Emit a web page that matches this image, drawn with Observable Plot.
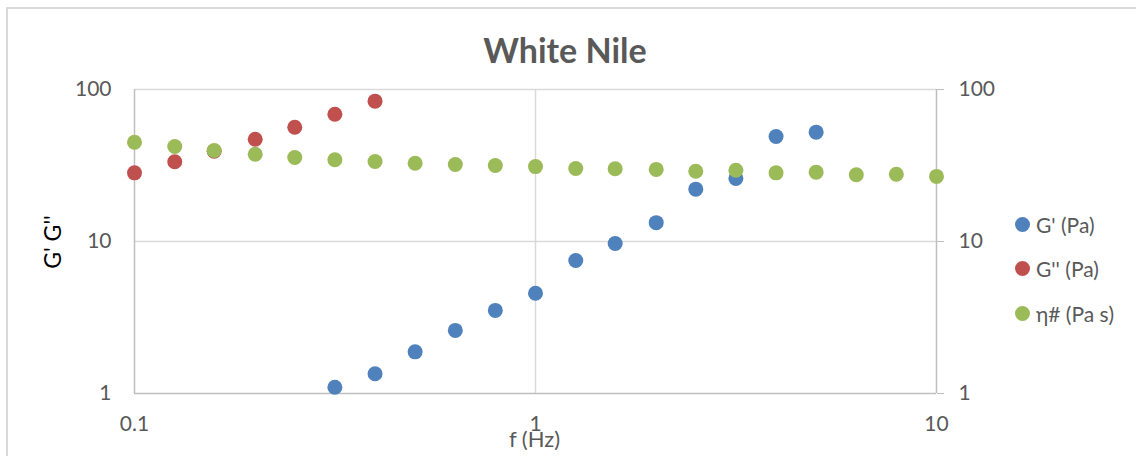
<!DOCTYPE html>
<html>
<head>
<meta charset="utf-8">
<script src="https://cdn.jsdelivr.net/npm/d3@7"></script>
<script src="https://cdn.jsdelivr.net/npm/@observablehq/plot@0.6"></script>
<style>
  html, body { margin: 0; padding: 0; background: #fff; }
  #wrap { position: relative; width: 1136px; height: 456px; overflow: hidden; font-family: Lato, "Open Sans", sans-serif; }
  #border { position: absolute; left: 6px; top: 7px; width: 1200px; height: 500px; border-left: 2px solid #d9d9d9; border-top: 2px solid #d9d9d9; box-sizing: border-box; }
  #title { position: absolute; left: 565px; top: 30px; transform: translateX(-50%); font-weight: bold; font-size: 34px; color: #595959; line-height: 40px; white-space: nowrap; }
  #ylab { position: absolute; left: 52px; top: 242px; transform: translate(-50%, -50%) rotate(-90deg); font-size: 23px; color: #000; white-space: nowrap; line-height: 24px; }
  .leg { position: absolute; left: 1015px; height: 20px; display: flex; align-items: center; font-size: 21px; color: #595959; white-space: nowrap; }
  .leg i { display: inline-block; width: 15px; height: 15px; border-radius: 50%; margin-right: 6px; }
  #chart { position: absolute; left: 0; top: 0; }
</style>
</head>
<body>
<div id="wrap">
  <div id="border"></div>
  <div id="chart"></div>
  <div id="title">White Nile</div>
  <div id="ylab">G' G''</div>
  <div id="legend"></div>
</div>
<script>
// Frequencies (Hz)
const freq = [0.1, 0.126, 0.158, 0.2, 0.251, 0.316, 0.398, 0.501, 0.631, 0.794, 1, 1.26, 1.58, 2, 2.51, 3.16, 3.98, 5.01, 6.31, 7.94, 10];
// G' (Pa)
const gPrime = [null, null, null, null, null, 1.10, 1.35, 1.88, 2.60, 3.52, 4.57, 7.5, 9.7, 13.3, 22.1, 26.0, 49.1, 52.4, null, null, null];
// G'' (Pa)
const gDouble = [28.3, 33.5, 39.3, 47.1, 56.5, 68.8, 83.8, null, null, null, null, null, null, null, null, null, null, null, null, null, null];
// η# (Pa s)
const eta = [45.0, 42.2, 39.7, 37.5, 35.7, 34.5, 33.6, 32.7, 32.1, 31.6, 31.1, 30.2, 30.1, 29.8, 29.0, 29.4, 28.3, 28.6, 27.5, 27.7, 26.8];

const seriesNames = ["G' (Pa)", "G'' (Pa)", "η# (Pa s)"];
const seriesColors = ["#4F81BD", "#C0504D", "#9BBB59"];
const xTicks = [0.1, 1, 10];
const yTicks = [1, 10, 100];

const allSeries = [gPrime, gDouble, eta];
const rows = [];
allSeries.forEach((vals, si) => {
  vals.forEach((v, i) => { if (v != null) rows.push({f: freq[i], v, s: seriesNames[si]}); });
});

const plot = Plot.plot({
  width: 1136,
  height: 456,
  marginLeft: 134,
  marginRight: 200,
  marginTop: 89,
  marginBottom: 63,
  style: { fontFamily: "Lato, 'Open Sans', sans-serif", fontSize: "21px", color: "#595959", background: "transparent", overflow: "visible" },
  x: { type: "log", domain: [0.1, 10] },
  y: { type: "log", domain: [1, 100] },
  color: { domain: seriesNames, range: seriesColors },
  marks: [
    Plot.ruleY([10, 100], { stroke: "#d9d9d9", strokeWidth: 1.5 }),
    Plot.ruleX([1], { stroke: "#d9d9d9", strokeWidth: 1.5 }),
    Plot.ruleX([0.1, 10], { stroke: "#bfbfbf", strokeWidth: 1.5 }),
    Plot.ruleY([1], { stroke: "#bfbfbf", strokeWidth: 1.5 }),
    Plot.axisX({ ticks: xTicks, tickFormat: d => String(d), tickSize: 0, tickPadding: 23, label: null }),
    Plot.axisY({ anchor: "left", ticks: yTicks, tickFormat: d => String(d), tickSize: 0, tickPadding: 23, label: null }),
    Plot.axisY({ anchor: "right", ticks: yTicks, tickFormat: d => String(d), tickSize: 7, tickPadding: 15, stroke: "#bfbfbf", label: null }),
    Plot.dot(rows, { x: "f", y: "v", fill: "s", r: 7.5, stroke: "none" }),
    Plot.text(["f (Hz)"], { frameAnchor: "bottom", dy: 53, fill: "#595959", fontSize: 22, dx: -1 })
  ]
});
document.getElementById("chart").appendChild(plot);

const legend = document.getElementById("legend");
const legTops = [214, 258, 303];
seriesNames.forEach((n, i) => {
  const d = document.createElement("div");
  d.className = "leg";
  d.style.top = legTops[i] + "px";
  d.innerHTML = `<i style="background:${seriesColors[i]}"></i><span></span>`;
  d.querySelector("span").textContent = n;
  legend.appendChild(d);
});
</script>
</body>
</html>
